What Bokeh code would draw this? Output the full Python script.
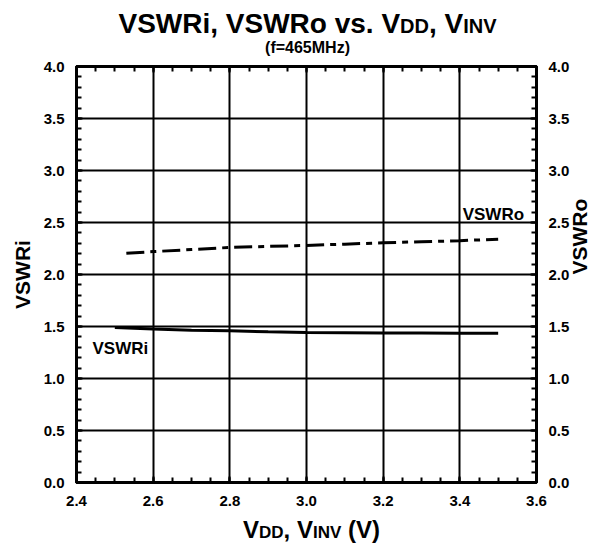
import math
from bokeh.plotting import figure
from bokeh.layouts import column
from bokeh.models import (Range1d, LinearAxis, SingleIntervalTicker, Label,
                          PrintfTickFormatter, Grid)
from bokeh.embed import file_html
from bokeh.resources import INLINE

# ---- data ----
vdd_o = [2.53, 2.6, 2.7, 2.8, 2.9, 3.0, 3.1, 3.2, 3.3, 3.4, 3.5]
vswr_o = [2.205, 2.22, 2.24, 2.26, 2.27, 2.28, 2.292, 2.305, 2.315, 2.325, 2.34]
vdd_i = [2.5, 2.6, 2.7, 2.8, 2.9, 3.0, 3.1, 3.2, 3.3, 3.4, 3.5]
vswr_i = [1.49, 1.475, 1.465, 1.458, 1.45, 1.443, 1.44, 1.437, 1.437, 1.436, 1.436]
x_limits = (2.4, 3.6)
y_limits = (0.0, 4.0)
title_parts = [("VSWRi, VSWRo vs. V", 28), ("DD", 20), (", V", 28), ("INV", 20)]
subtitle = "(f=465MHz)"
xlabel_parts = [("V", 24), ("DD", 17), (", V", 24), ("INV", 17), (" (V)", 24)]

FONT = "Liberation Sans"
W = 605
TOP_H, MAIN_H, BOT_H = 58, 456, 30
FL, FR = 76, 537                     # frame left/right (px)
FT, FB = 66 - TOP_H, 482 - TOP_H     # frame top/bottom inside main figure
CAP = 0.36                           # half cap-height (em), baseline -> middle

ADV = {"V": 667, "S": 667, "W": 944, "R": 722, "i": 278, ",": 278, " ": 278, "o": 611,
       "v": 556, "s": 556, ".": 278, "D": 722, "I": 278, "N": 722, "(": 333, ")": 333}


def text_strip(height):
    f = figure(width=W, height=height, x_range=Range1d(0, W), y_range=Range1d(0, height),
               output_backend="svg", toolbar_location=None, title=None,
               x_axis_location=None, y_axis_location=None,
               min_border_left=0, min_border_right=0, min_border_top=0, min_border_bottom=0,
               frame_align=False)
    f.outline_line_color = None
    f.xgrid.visible = False
    f.ygrid.visible = False
    return f


def pieces(f, height, parts, center_px, baseline_px):
    widths = [sum(ADV[c] for c in t) * s / 1000.0 for t, s in parts]
    x = center_px - sum(widths) / 2.0
    for (t, s), w in zip(parts, widths):
        lead = len(t) - len(t.lstrip(" "))
        x0 = x + lead * ADV[" "] * s / 1000.0
        f.add_layout(Label(x=x0, y=height - (baseline_px - CAP * s), text=t.lstrip(" "),
                           text_font=FONT, text_font_style="bold", text_font_size=f"{s}px",
                           text_color="black", text_align="left", text_baseline="middle"))
        x += w


# ---- title strip ----
top = text_strip(TOP_H)
pieces(top, TOP_H, title_parts, 307, 33)
top.add_layout(Label(x=307, y=TOP_H - (53 - CAP * 16), text=subtitle, text_font=FONT,
                     text_font_style="bold", text_font_size="16px", text_color="black",
                     text_align="center", text_baseline="middle"))

# ---- main plot ----
p = figure(width=W, height=MAIN_H, x_range=Range1d(*x_limits), y_range=Range1d(*y_limits),
           output_backend="svg", toolbar_location=None, title=None,
           x_axis_location=None, y_axis_location=None,
           min_border_left=FL, min_border_right=W - FR, min_border_top=FT,
           min_border_bottom=MAIN_H - FB, frame_align=False)
p.outline_line_color = "black"
p.outline_line_width = 3

xt = SingleIntervalTicker(interval=0.2, num_minor_ticks=4)
yt = SingleIntervalTicker(interval=0.5, num_minor_ticks=5)


def make_axis(ticker, show_labels=True):
    ax = LinearAxis(ticker=ticker, formatter=PrintfTickFormatter(format="%.1f"))
    ax.axis_line_color = "black"
    ax.axis_line_width = 3
    ax.major_tick_in = 6
    ax.major_tick_out = 0
    ax.minor_tick_in = 5
    ax.minor_tick_out = 0
    ax.major_tick_line_width = 2
    ax.minor_tick_line_width = 2
    ax.major_tick_line_color = "black"
    ax.minor_tick_line_color = "black"
    ax.major_label_text_font = FONT
    ax.major_label_text_font_style = "bold"
    ax.major_label_text_font_size = "15px"
    ax.major_label_text_color = "black"
    ax.major_label_standoff = 12
    ax.axis_label_text_font = FONT
    ax.axis_label_text_font_style = "bold"
    ax.axis_label_text_font_size = "21px"
    ax.axis_label_text_color = "black"
    ax.axis_label_standoff = 7
    if not show_labels:
        ax.major_label_text_alpha = 0
        ax.major_label_text_font_size = "1px"
        ax.major_label_standoff = 0
    return ax


left = make_axis(yt)
left.axis_label = "VSWRi"
right = make_axis(yt)
right.axis_label = "VSWRo"
right.axis_label_orientation = math.pi / 2
bottom = make_axis(xt)
bottom.major_label_standoff = 13
above = make_axis(xt, show_labels=False)
p.add_layout(left, "left")
p.add_layout(right, "right")
p.add_layout(bottom, "below")
p.add_layout(above, "above")

p.add_layout(Grid(dimension=0, ticker=xt, grid_line_color="black", grid_line_width=2))
p.add_layout(Grid(dimension=1, ticker=yt, grid_line_color="black", grid_line_width=2))

p.line(vdd_o, vswr_o, line_color="black", line_width=3, line_dash="18 6 6 6")
p.line(vdd_i, vswr_i, line_color="black", line_width=3)

px_per_x = (FR - FL) / (x_limits[1] - x_limits[0])
px_per_y = (FB - FT) / (y_limits[1] - y_limits[0])


def xdata(px):
    return x_limits[0] + (px - FL) / px_per_x


def ydata(py):  # py = page pixel
    return y_limits[0] + (FB + TOP_H - py) / px_per_y


p.add_layout(Label(x=xdata(463), y=ydata(220 - CAP * 17), text="VSWRo", text_font=FONT,
                   text_font_style="bold", text_font_size="17px", text_color="black",
                   text_align="left", text_baseline="middle"))
p.add_layout(Label(x=xdata(92), y=ydata(354 - CAP * 17), text="VSWRi", text_font=FONT,
                   text_font_style="bold", text_font_size="17px", text_color="black",
                   text_align="left", text_baseline="middle"))

# ---- x-axis title strip ----
bot = text_strip(BOT_H)
pieces(bot, BOT_H, xlabel_parts, 311, 538 - (TOP_H + MAIN_H))

layout = column(top, p, bot, spacing=0)
open("out.html", "w").write(file_html(layout, INLINE))
